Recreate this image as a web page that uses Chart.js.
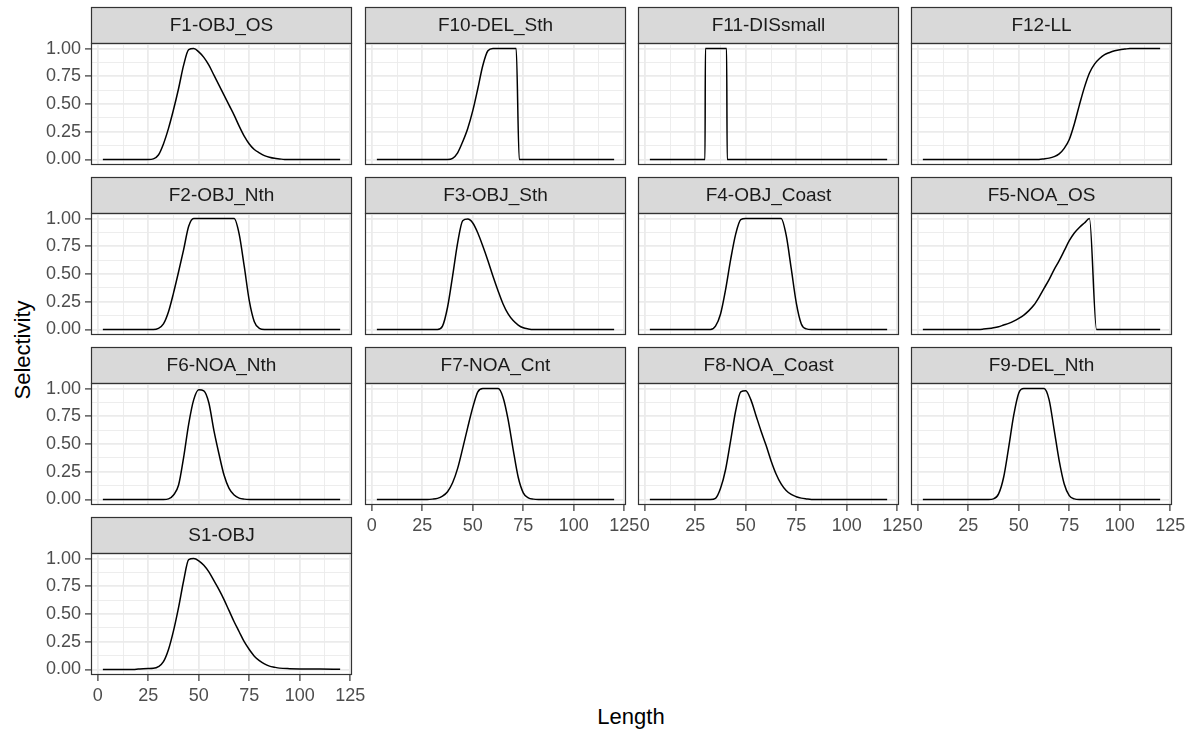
<!DOCTYPE html>
<html>
<head>
<meta charset="utf-8">
<title>Selectivity by fleet</title>
<script src="https://cdn.jsdelivr.net/npm/chart.js@4.4.0/dist/chart.umd.min.js"></script>
<style>
    html, body { margin: 0; padding: 0; background: #fff; }
    #figure { position: relative; width: 1188px; height: 735px; overflow: hidden; font-family: "Liberation Sans", Arial, sans-serif; }
    #figure canvas { position: absolute; }
    .axis-title { position: absolute; color: #000; font-size: 22px; white-space: nowrap; line-height: 1; }
    #yTitle { left: 23px; top: 350px; transform: translate(-50%, -50%) rotate(-90deg); }
    #xTitle { left: 631px; top: 717px; transform: translate(-50%, -50%); }
</style>
</head>
<body>
<div id="figure">
    <div class="axis-title" id="yTitle">Selectivity</div>
    <div class="axis-title" id="xTitle">Length</div>
</div>
<script>
// Selectivity at length, one [length, selectivity] pair per point
const F1_OBJ_OS = [[2.5,0],[25,0],[27.5,0.005],[30,0.04],[32.5,0.14],[35,0.28],[37.5,0.45],[40,0.64],[42.5,0.85],[45,0.99],[47.5,1],[50,0.97],[52.5,0.92],[55,0.85],[57.5,0.76],[60,0.67],[62.5,0.58],[65,0.49],[67.5,0.4],[70,0.3],[72.5,0.21],[75,0.14],[77.5,0.09],[80,0.06],[82.5,0.035],[85,0.02],[87.5,0.01],[90,0.005],[92.5,0],[120,0]];
const F10_DEL_Sth = [[2.5,0],[37.5,0],[40,0.01],[42.5,0.06],[45,0.16],[47.5,0.28],[50,0.44],[52.5,0.64],[55,0.85],[57.5,0.98],[60,1],[71.5,1],[73,0],[120,0]];
const F11_DISsmall = [[2.5,0],[29.8,0],[30,1],[40.5,1],[40.8,0],[120,0]];
const F12_LL = [[2.5,0],[60,0],[62.5,0.005],[65,0.012],[67.5,0.025],[70,0.05],[72.5,0.1],[75,0.18],[77.5,0.32],[80,0.49],[82.5,0.65],[85,0.78],[87.5,0.86],[90,0.91],[92.5,0.945],[95,0.965],[97.5,0.98],[100,0.99],[102.5,0.995],[105,1],[120,1]];
const F2_OBJ_Nth = [[2.5,0],[27.5,0],[30,0.01],[32.5,0.05],[35,0.16],[37.5,0.33],[40,0.52],[42.5,0.72],[45,0.93],[47.5,1],[67.5,1],[70,0.86],[72.5,0.57],[75,0.26],[77.5,0.07],[80,0.01],[82.5,0],[120,0]];
const F3_OBJ_Sth = [[2.5,0],[32.5,0],[35,0.03],[37.5,0.2],[40,0.48],[42.5,0.78],[45,0.98],[47.5,0.995],[50,0.96],[52.5,0.87],[55,0.75],[57.5,0.62],[60,0.48],[62.5,0.35],[65,0.23],[67.5,0.14],[70,0.08],[72.5,0.04],[75,0.015],[77.5,0.005],[80,0],[120,0]];
const F4_OBJ_Coast = [[2.5,0],[32.5,0],[35,0.03],[37.5,0.14],[40,0.36],[42.5,0.63],[45,0.86],[47.5,0.99],[50,1],[67.5,1],[70,0.85],[72.5,0.55],[75,0.24],[77.5,0.05],[80,0.005],[82.5,0],[120,0]];
const F5_NOA_OS = [[2.5,0],[30,0],[32.5,0.003],[35,0.008],[37.5,0.015],[40,0.025],[42.5,0.04],[45,0.055],[47.5,0.075],[50,0.1],[52.5,0.13],[55,0.17],[57.5,0.22],[60,0.29],[62.5,0.37],[65,0.45],[67.5,0.54],[70,0.62],[72.5,0.71],[75,0.8],[77.5,0.87],[80,0.92],[82.5,0.96],[85,1],[88.5,0],[120,0]];
const F6_NOA_Nth = [[2.5,0],[32.5,0],[35,0.005],[37.5,0.04],[40,0.13],[42.5,0.38],[45,0.68],[47.5,0.9],[50,0.99],[52.5,0.98],[55,0.87],[57.5,0.62],[60,0.41],[62.5,0.22],[65,0.1],[67.5,0.04],[70,0.012],[72.5,0.003],[75,0],[120,0]];
const F7_NOA_Cnt = [[2.5,0],[27.5,0],[30,0.003],[32.5,0.01],[35,0.03],[37.5,0.07],[40,0.15],[42.5,0.28],[45,0.46],[47.5,0.65],[50,0.83],[52.5,0.97],[55,1],[62.5,1],[65,0.92],[67.5,0.72],[70,0.45],[72.5,0.2],[75,0.06],[77.5,0.015],[80,0.003],[82.5,0],[120,0]];
const F8_NOA_Coast = [[2.5,0],[32.5,0],[35,0.01],[37.5,0.1],[40,0.27],[42.5,0.53],[45,0.8],[47.5,0.97],[50,0.98],[52.5,0.9],[55,0.76],[57.5,0.62],[60,0.49],[62.5,0.35],[65,0.23],[67.5,0.14],[70,0.08],[72.5,0.045],[75,0.025],[77.5,0.012],[80,0.005],[82.5,0],[120,0]];
const F9_DEL_Nth = [[2.5,0],[35,0],[37.5,0.005],[40,0.05],[42.5,0.2],[45,0.47],[47.5,0.76],[50,0.96],[52.5,1],[62.5,1],[65,0.9],[67.5,0.63],[70,0.35],[72.5,0.14],[75,0.035],[77.5,0.005],[80,0],[120,0]];
const S1_OBJ = [[2.5,0],[17.5,0],[20,0.003],[22.5,0.006],[25,0.008],[27.5,0.01],[30,0.025],[32.5,0.07],[35,0.18],[37.5,0.35],[40,0.56],[42.5,0.8],[45,0.99],[47.5,1],[50,0.98],[52.5,0.94],[55,0.88],[57.5,0.8],[60,0.72],[62.5,0.63],[65,0.53],[67.5,0.43],[70,0.34],[72.5,0.25],[75,0.18],[77.5,0.12],[80,0.08],[82.5,0.05],[85,0.03],[87.5,0.02],[90,0.012],[95,0.007],[100,0.005],[110,0.004],[120,0.002]];

// facet order, filled row by row
const facetNames = ['F1-OBJ_OS', 'F10-DEL_Sth', 'F11-DISsmall', 'F12-LL',
                    'F2-OBJ_Nth', 'F3-OBJ_Sth', 'F4-OBJ_Coast', 'F5-NOA_OS',
                    'F6-NOA_Nth', 'F7-NOA_Cnt', 'F8-NOA_Coast', 'F9-DEL_Nth',
                    'S1-OBJ'];
const facetSeries = [F1_OBJ_OS, F10_DEL_Sth, F11_DISsmall, F12_LL,
                     F2_OBJ_Nth, F3_OBJ_Sth, F4_OBJ_Coast, F5_NOA_OS,
                     F6_NOA_Nth, F7_NOA_Cnt, F8_NOA_Coast, F9_DEL_Nth,
                     S1_OBJ];

const xMajor = [0, 25, 50, 75, 100, 125];
const xMinor = [12.5, 37.5, 62.5, 87.5, 112.5];
const yMajor = [0, 0.25, 0.5, 0.75, 1];
const yMinor = [0.125, 0.375, 0.625, 0.875];
const xLimits = [-3.375, 125.875];
const yLimits = [-0.05, 1.05];

// panel geometry (px)
const NCOL = 4;
const PANEL_W = 261, PANEL_H = 122, STRIP_H = 36;
const COL_LEFT = [91, 365, 638, 911];
const ROW_TOP = [7, 177, 347, 517];
const PAD_L = 60, PAD_T = 2, PAD_R = 30, PAD_B = 45;

const FONT = '"Liberation Sans", Arial, sans-serif';
const TICK_FONT = { family: FONT, size: 18 };
const GRID = '#EBEBEB';
const INK = '#333333';

Chart.defaults.font.family = FONT;

// grey strip above the panel plus the dark panel frame
const stripPlugin = {
    id: 'facetStrip',
    beforeDraw(chart, args, opts) {
        const { ctx, chartArea: a } = chart;
        ctx.save();
        ctx.fillStyle = '#D9D9D9';
        ctx.fillRect(a.left, a.top - STRIP_H, a.right - a.left, STRIP_H);
        ctx.strokeStyle = INK;
        ctx.lineWidth = 1.2;
        ctx.strokeRect(a.left + 0.5, a.top - STRIP_H + 0.5, a.right - a.left - 1, STRIP_H);
        ctx.fillStyle = '#1A1A1A';
        ctx.font = `19px ${FONT}`;
        ctx.textAlign = 'center';
        ctx.textBaseline = 'middle';
        ctx.fillText(opts.label, (a.left + a.right) / 2, a.top - STRIP_H / 2 + 1);
        ctx.restore();
    },
    afterDraw(chart) {
        const { ctx, chartArea: a } = chart;
        ctx.save();
        ctx.strokeStyle = INK;
        ctx.lineWidth = 1.2;
        ctx.strokeRect(a.left + 0.5, a.top + 0.5, a.right - a.left - 1, a.bottom - a.top - 1);
        ctx.restore();
    }
};

function axisOptions(limits, major, minor, showLabels, fmt, fitSize) {
    const all = major.concat(minor).sort((a, b) => a - b);
    const isMajor = v => major.includes(v);
    return {
        type: 'linear',
        min: limits[0],
        max: limits[1],
        afterBuildTicks: s => { s.ticks = all.map(v => ({ value: v })); },
        afterFit: fitSize,
        border: { display: false },
        grid: {
            color: GRID,
            lineWidth: c => (c.tick && isMajor(c.tick.value)) ? 1.8 : 0.9,
            drawTicks: showLabels,
            tickLength: 6,
            tickWidth: 1.2,
            tickColor: c => (c.tick && isMajor(c.tick.value)) ? INK : 'rgba(0,0,0,0)'
        },
        ticks: {
            display: showLabels,
            autoSkip: false,
            maxRotation: 0,
            minRotation: 0,
            padding: 4,
            color: '#4D4D4D',
            font: TICK_FONT,
            callback: v => isMajor(v) ? fmt(v) : ''
        }
    };
}

function buildPanel(i) {
    const row = Math.floor(i / NCOL), col = i % NCOL;
    const showY = col === 0;
    const showX = !facetNames[i + NCOL];   // bottom of its column

    const canvas = document.createElement('canvas');
    canvas.width = PAD_L + PANEL_W + PAD_R;
    canvas.height = PAD_T + STRIP_H + PANEL_H + PAD_B;
    canvas.style.left = (COL_LEFT[col] - PAD_L) + 'px';
    canvas.style.top = (ROW_TOP[row] - PAD_T) + 'px';
    document.getElementById('figure').appendChild(canvas);

    new Chart(canvas, {
        type: 'line',
        data: {
            datasets: [{
                data: facetSeries[i].map(([x, y]) => ({ x, y })),
                borderColor: '#000000',
                borderWidth: 1.5,
                pointRadius: 0,
                cubicInterpolationMode: 'monotone',
                fill: false
            }]
        },
        options: {
            responsive: false,
            animation: false,
            events: [],
            layout: { padding: { left: 0, top: PAD_T + STRIP_H, right: PAD_R, bottom: 0 } },
            scales: {
                x: axisOptions(xLimits, xMajor, xMinor, showX, v => String(v), s => { s.height = PAD_B; }),
                y: axisOptions(yLimits, yMajor, yMinor, showY, v => v.toFixed(2), s => { s.width = PAD_L; })
            },
            plugins: {
                legend: { display: false },
                tooltip: { enabled: false },
                facetStrip: { label: facetNames[i] }
            }
        },
        plugins: [stripPlugin]
    });
}

facetNames.forEach((_, i) => buildPanel(i));
</script>
</body>
</html>
